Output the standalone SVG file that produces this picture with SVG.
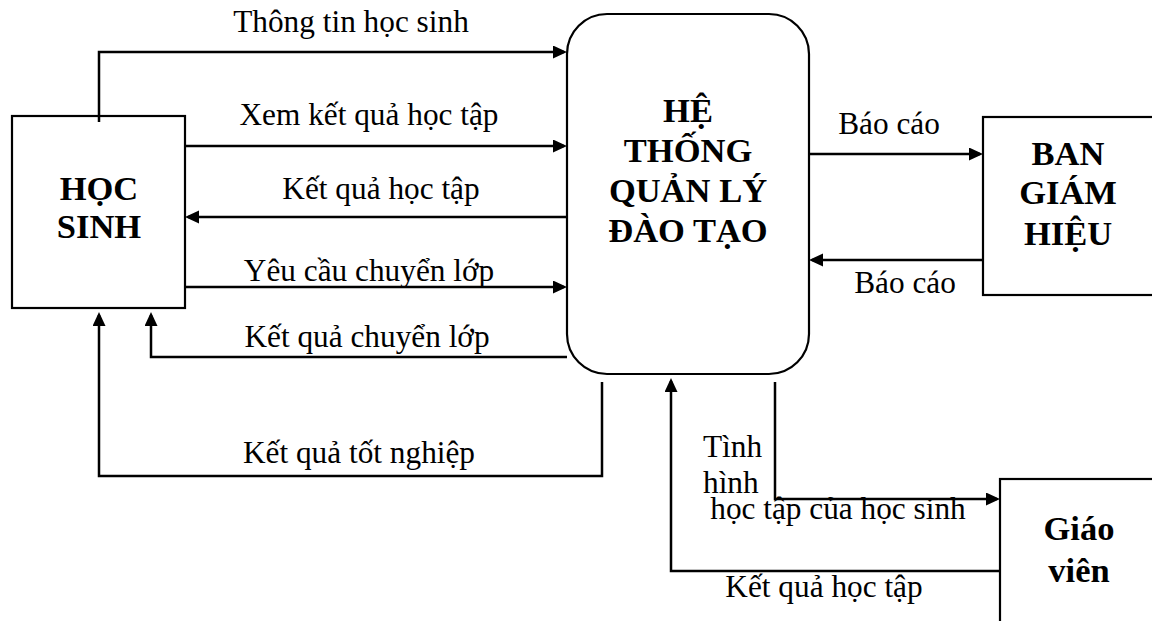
<svg xmlns="http://www.w3.org/2000/svg" width="1152" height="621" viewBox="0 0 1152 621">
<style>
.box{fill:#fff;stroke:#000;stroke-width:2.2}
.t{font-family:"Liberation Serif","Times New Roman",serif;fill:#000}
.b{font-weight:bold;font-size:34.5px;text-anchor:middle}
.l{font-size:31.3px}
.c{text-anchor:middle}
.e{fill:none;stroke:#000;stroke-width:2.5;marker-end:url(#ah)}
</style>
<defs>
<marker id="ah" markerUnits="userSpaceOnUse" markerWidth="16" markerHeight="14" refX="11" refY="6.5" orient="auto">
<path d="M0,0 L14,6.5 L0,13 z" fill="#000"/>
</marker>
</defs>
<rect width="1152" height="621" fill="#fff"/>
<g id="hoc-sinh">
<rect class="box" x="12" y="116" width="173" height="192"/>
<text class="t b" x="99" y="200">HỌC</text>
<text class="t b" x="99" y="238">SINH</text>
</g>
<g id="he-thong">
<rect class="box" x="567" y="14" width="242" height="360" rx="40" ry="40"/>
<text class="t b" x="688" y="122">HỆ</text>
<text class="t b" x="688" y="162">THỐNG</text>
<text class="t b" x="688" y="202">QUẢN LÝ</text>
<text class="t b" x="688" y="242">ĐÀO TẠO</text>
</g>
<g id="ban-giam-hieu">
<rect class="box" x="983" y="117" width="200" height="178"/>
<text class="t b" x="1068" y="165">BAN</text>
<text class="t b" x="1068" y="204">GIÁM</text>
<text class="t b" x="1068" y="245">HIỆU</text>
</g>
<g id="giao-vien">
<rect class="box" x="1000" y="479" width="200" height="180"/>
<text class="t b" x="1079" y="540">Giáo</text>
<text class="t b" x="1079" y="582">viên</text>
</g>
<g id="connectors">
<path class="e" d="M99,122 V52 H564"/>
<path class="e" d="M185,146 H564"/>
<path class="e" d="M567,217 H188"/>
<path class="e" d="M185,287 H564"/>
<path class="e" d="M567,357 H151 V315"/>
<path class="e" d="M602,382 V476 H99 V315"/>
<path class="e" d="M809,154 H980"/>
<path class="e" d="M983,260 H812"/>
<path class="e" d="M775,382 V499 H997"/>
<path class="e" d="M1000,571 H671 V381"/>
<text class="t l c" x="351" y="32">Thông tin học sinh</text>
<text class="t l c" x="369" y="125">Xem kết quả học tập</text>
<text class="t l c" x="381" y="199">Kết quả học tập</text>
<text class="t l c" x="369" y="281">Yêu cầu chuyển lớp</text>
<text class="t l c" x="367" y="347">Kết quả chuyển lớp</text>
<text class="t l c" x="359" y="463">Kết quả tốt nghiệp</text>
<text class="t l c" x="889" y="134">Báo cáo</text>
<text class="t l c" x="905" y="293">Báo cáo</text>
<text class="t l" x="703" y="457">Tình</text>
<text class="t l" x="703" y="493">hình</text>
<text class="t l c" x="838" y="519">học tập của học sinh</text>
<text class="t l c" x="824" y="597">Kết quả học tập</text>
</g>
</svg>
